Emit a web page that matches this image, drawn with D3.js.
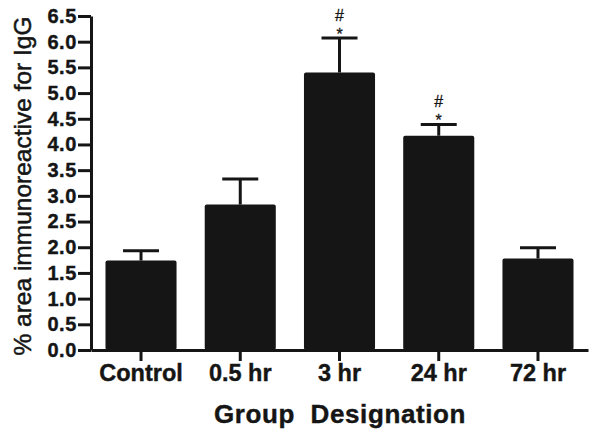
<!DOCTYPE html>
<html>
<head>
<meta charset="utf-8">
<script src="https://cdn.jsdelivr.net/npm/d3@7"></script>
<style>
  html, body { margin: 0; padding: 0; background: #fff; }
  svg { display: block; }
</style>
</head>
<body>
<svg id="chart" width="600" height="436"></svg>
<script>
const categories = ["Control", "0.5 hr", "3 hr", "24 hr", "72 hr"];
const means = [1.74, 2.83, 5.40, 4.17, 1.78];
const errors = [0.19, 0.50, 0.67, 0.22, 0.21];
const marks = [[], [], ["*", "#"], ["*", "#"], []];
const yTicks = [0, 0.5, 1, 1.5, 2, 2.5, 3, 3.5, 4, 4.5, 5, 5.5, 6, 6.5];
const yTitle = "% area immunoreactive for IgG";
const xTitle = "Group\u00A0\u00A0Designation";

const ink = "#151515";
const svg = d3.select("#chart");

const x = d3.scaleBand().domain(categories).range([91, 588])
  .paddingInner(0.284).paddingOuter(0.146);
const y = d3.scaleLinear().domain([0, 6.5]).range([350, 16]);

const data = categories.map((c, i) => ({ c, m: means[i], e: errors[i], marks: marks[i] }));

// bars
svg.append("g").selectAll("rect").data(data).join("rect")
  .attr("x", d => x(d.c))
  .attr("y", d => y(d.m))
  .attr("width", x.bandwidth())
  .attr("height", d => y(0) - y(d.m))
  .attr("rx", 2)
  .attr("fill", ink);

// error bars
const eb = svg.append("g").attr("stroke", ink).attr("stroke-width", 3);
const capW = 36;
eb.selectAll("line.v").data(data).join("line")
  .attr("class", "v")
  .attr("x1", d => x(d.c) + x.bandwidth() / 2)
  .attr("x2", d => x(d.c) + x.bandwidth() / 2)
  .attr("y1", d => y(d.m))
  .attr("y2", d => y(d.m + d.e));
eb.selectAll("line.h").data(data).join("line")
  .attr("class", "h")
  .attr("x1", d => x(d.c) + x.bandwidth() / 2 - capW / 2)
  .attr("x2", d => x(d.c) + x.bandwidth() / 2 + capW / 2)
  .attr("y1", d => y(d.m + d.e))
  .attr("y2", d => y(d.m + d.e));

// significance marks
const mg = svg.append("g")
  .attr("font-family", "Liberation Sans, Arial, sans-serif")
  .attr("font-size", 16)
  .attr("fill", ink)
  .attr("stroke", ink)
  .attr("stroke-width", 0.3)
  .attr("text-anchor", "middle");
data.forEach(d => {
  d.marks.forEach((s, j) => {
    mg.append("text")
      .attr("x", x(d.c) + x.bandwidth() / 2)
      .attr("y", s === "*" ? y(d.m + d.e) + 2 : y(d.m + d.e) - 17)
      .text(s);
  });
});

// y axis
const yAxis = svg.append("g")
  .attr("transform", "translate(91,0)")
  .call(d3.axisLeft(y).tickValues(yTicks).tickFormat(d3.format(".1f"))
    .tickSize(13).tickSizeOuter(0).tickPadding(1));
yAxis.selectAll("path, line").attr("stroke", ink).attr("stroke-width", 3);
yAxis.selectAll("text")
  .attr("fill", ink)
  .attr("stroke", ink)
  .attr("stroke-width", 0.4)
  .attr("font-family", "Liberation Sans, Arial, sans-serif")
  .attr("font-weight", "bold")
  .attr("font-size", 20)
  .attr("letter-spacing", 0.6);

// x axis
const xAxis = svg.append("g")
  .attr("transform", "translate(0,350)")
  .call(d3.axisBottom(x).tickSize(11).tickSizeOuter(0).tickPadding(3));
xAxis.selectAll("path, line").attr("stroke", ink).attr("stroke-width", 3);
xAxis.selectAll("text")
  .attr("fill", ink)
  .attr("stroke", ink)
  .attr("stroke-width", 0.4)
  .attr("font-family", "Liberation Sans, Arial, sans-serif")
  .attr("font-weight", "bold")
  .attr("font-size", 23.5);

// titles
svg.append("text")
  .attr("transform", "translate(31,186) rotate(-90)")
  .attr("text-anchor", "middle")
  .attr("font-family", "Liberation Sans, Arial, sans-serif")
  .attr("font-size", 24.5)
  .attr("fill", ink)
  .attr("stroke", ink)
  .attr("stroke-width", 0.5)
  .text(yTitle);

svg.append("text")
  .attr("x", 340)
  .attr("y", 423)
  .attr("text-anchor", "middle")
  .attr("font-family", "Liberation Sans, Arial, sans-serif")
  .attr("font-weight", "bold")
  .attr("font-size", 26)
  .attr("letter-spacing", 0.6)
  .attr("fill", ink)
  .attr("stroke", ink)
  .attr("stroke-width", 0.4)
  .text(xTitle);
</script>
</body>
</html>
